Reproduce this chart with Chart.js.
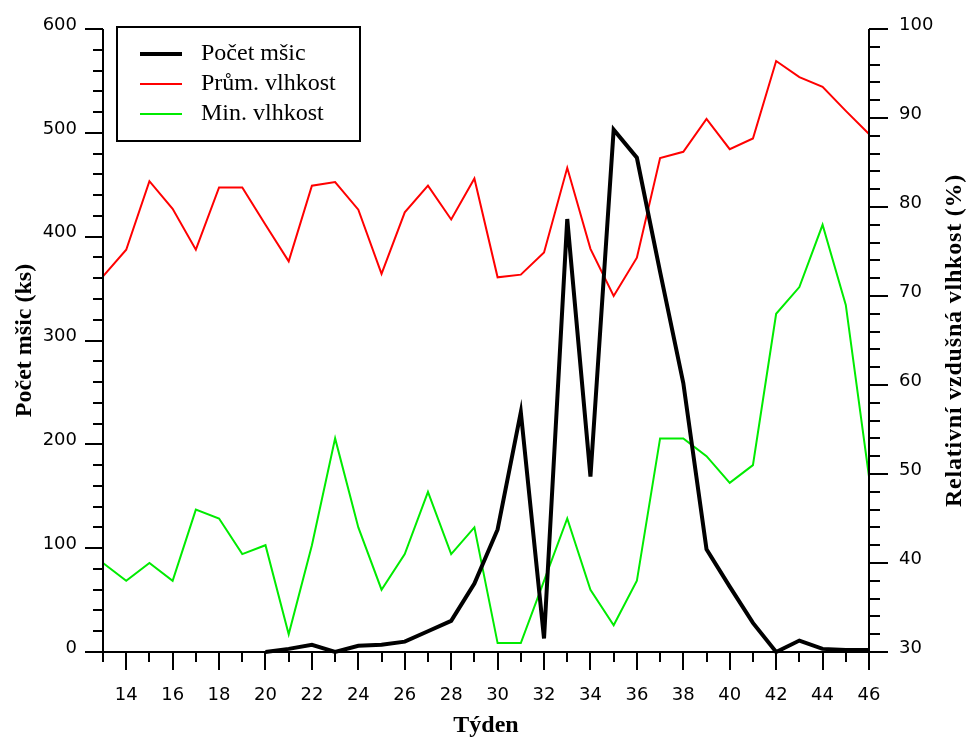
<!DOCTYPE html>
<html>
<head>
<meta charset="utf-8">
<script src="https://cdn.jsdelivr.net/npm/chart.js@4.4.1/dist/chart.umd.min.js"></script>
<style>
  body { margin: 0; background: #fff; }
  #wrap { width: 967px; height: 745px; }
</style>
</head>
<body>
<div id="wrap"><canvas id="myChart" width="967" height="745"></canvas></div>
<script>
// týdny 13..46
const weeks = [13, 14, 15, 16, 17, 18, 19, 20, 21, 22, 23, 24, 25, 26, 27, 28, 29,
  30, 31, 32, 33, 34, 35, 36, 37, 38, 39, 40, 41, 42, 43, 44, 45, 46];

// počet mšic (ks) - levá osa
const aphids = [null, null, null, null, null, null, null,
  0, 3, 7, 0, 6, 7, 10, 20, 30, 66, 118, 231, 13, 417, 169, 503, 476, 366, 259,
  99, 63, 28, 0, 11, 3, 2, 2];

// průměrná a minimální vlhkost (%) - pravá osa
const avgHumidity = [72.2, 75.2, 82.9, 79.8, 75.2, 82.2, 82.2, 78.0, 73.9, 82.4,
  82.8, 79.7, 72.5, 79.4, 82.4, 78.6, 83.2, 72.1, 72.4, 74.9,
  84.4, 75.3, 70.0, 74.3, 85.5, 86.2, 89.9, 86.5, 87.7, 96.4,
  94.6, 93.5, 90.8, 88.2];
const minHumidity = [40, 38, 40, 38, 46, 45, 41, 42, 32, 42,
  54, 44, 37, 41, 48, 41, 44, 31, 31, 38,
  45, 37, 33, 38, 54, 54, 52, 49, 51, 68,
  71, 78, 69, 49.7];

const xTickLabels = [14, 16, 18, 20, 22, 24, 26, 28, 30, 32, 34, 36, 38, 40, 42, 44, 46];
const leftTickLabels = [0, 100, 200, 300, 400, 500, 600];
const rightTickLabels = [30, 40, 50, 60, 70, 80, 90, 100];

const toPoints = (vals) => weeks.map((w, i) => ({ x: w, y: vals[i] }));

// osy a čárky kreslíme sami (delší hlavní, kratší vedlejší)
const axesPlugin = {
  id: 'axesPlugin',
  afterDatasetsDraw(chart) {
    const { ctx, chartArea: a, scales } = chart;
    const x = scales.x, y = scales.y, y1 = scales.y1;
    ctx.save();
    ctx.strokeStyle = '#000';
    ctx.lineWidth = 2;
    ctx.beginPath();
    ctx.moveTo(a.left - 18, a.bottom); ctx.lineTo(a.right + 19, a.bottom);
    ctx.moveTo(a.left, a.top); ctx.lineTo(a.left, a.bottom);
    ctx.moveTo(a.right, a.top); ctx.lineTo(a.right, a.bottom);
    x.ticks.forEach(t => {
      const px = Math.round(x.getPixelForValue(t.value));
      const len = t.value % 2 === 0 ? 18 : 10;
      ctx.moveTo(px, a.bottom); ctx.lineTo(px, a.bottom + len);
    });
    y.ticks.forEach(t => {
      const py = Math.round(y.getPixelForValue(t.value));
      const len = t.value % 100 === 0 ? 18 : 10;
      ctx.moveTo(a.left, py); ctx.lineTo(a.left - len, py);
    });
    y1.ticks.forEach(t => {
      const py = Math.round(y1.getPixelForValue(t.value));
      const len = t.value % 10 === 0 ? 19 : 11;
      ctx.moveTo(a.right, py); ctx.lineTo(a.right + len, py);
    });
    ctx.stroke();

    // název pravé osy (čte se zdola nahoru)
    ctx.translate(955, (a.top + a.bottom) / 2);
    ctx.rotate(-Math.PI / 2);
    ctx.fillStyle = '#000';
    ctx.font = 'bold 24px "Liberation Serif"';
    ctx.letterSpacing = '0.8px';
    ctx.textAlign = 'center';
    ctx.textBaseline = 'middle';
    ctx.fillText('Relativní vzdušná vlhkost (%)', 0, 0);
    ctx.restore();
  }
};

// legenda uvnitř grafu v rámečku
const legendBox = {
  id: 'legendBox',
  afterDraw(chart) {
    const ctx = chart.ctx;
    ctx.save();
    ctx.fillStyle = '#fff';
    ctx.fillRect(117, 27, 243, 114);
    ctx.strokeStyle = '#000';
    ctx.lineWidth = 2;
    ctx.strokeRect(117, 27, 243, 114);
    ctx.font = '24px "Liberation Serif"';
    ctx.textBaseline = 'middle';
    chart.data.datasets.forEach((ds, i) => {
      const ly = 54 + i * 30;
      ctx.strokeStyle = ds.borderColor;
      ctx.lineWidth = ds.borderWidth;
      ctx.beginPath();
      ctx.moveTo(140, ly); ctx.lineTo(182, ly);
      ctx.stroke();
      ctx.fillStyle = '#000';
      ctx.fillText(ds.label, 201, ly);
    });
    ctx.restore();
  }
};

// svislé osy: nechceme, aby odsazení popisků posouvalo horní okraj
const fitVertical = (w) => (s) => {
  s.width = w;
  s.paddingTop = 10;
  s.paddingBottom = 10;
};

Chart.defaults.font.family = '"DejaVu Sans"';
Chart.defaults.color = '#000';

new Chart(document.getElementById('myChart'), {
  type: 'line',
  data: {
    datasets: [
      { label: 'Počet mšic', data: toPoints(aphids), yAxisID: 'y',
        borderColor: '#000', borderWidth: 4, pointRadius: 0, clip: false },
      { label: 'Prům. vlhkost', data: toPoints(avgHumidity), yAxisID: 'y1',
        borderColor: '#ff0000', borderWidth: 2, pointRadius: 0, clip: false },
      { label: 'Min. vlhkost', data: toPoints(minHumidity), yAxisID: 'y1',
        borderColor: 'rgb(0, 235, 0)', borderWidth: 2, pointRadius: 0, clip: false }
    ]
  },
  options: {
    responsive: false,
    animation: false,
    layout: { padding: { top: 29, left: 0, right: 0, bottom: 0 } },
    plugins: { legend: { display: false }, tooltip: { enabled: false } },
    elements: { line: { tension: 0 } },
    scales: {
      x: {
        type: 'linear', min: 13, max: 46,
        grid: { drawOnChartArea: false, drawTicks: false, display: false },
        border: { display: false },
        ticks: {
          stepSize: 1, autoSkip: false, maxRotation: 0, padding: 33,
          font: { size: 18 },
          callback: (v) => xTickLabels.includes(v) ? String(v) : ''
        },
        title: { display: true, text: 'Týden', font: { family: '"Liberation Serif"', size: 24, weight: 'bold' },
          padding: { top: 0, bottom: 5 } },
        afterFit: (s) => { s.height = 93; }
      },
      y: {
        position: 'left', min: 0, max: 600,
        grid: { drawOnChartArea: false, drawTicks: false, display: false },
        border: { display: false },
        ticks: {
          stepSize: 20, autoSkip: false, padding: 26, labelOffset: -4,
          font: { size: 18 },
          callback: (v) => leftTickLabels.includes(v) ? String(v) : ''
        },
        title: { display: true, text: 'Počet mšic (ks)', font: { family: '"Liberation Serif"', size: 24, weight: 'bold' },
          padding: { top: 10, bottom: 0 } },
        afterFit: fitVertical(103)
      },
      y1: {
        position: 'right', min: 30, max: 100,
        grid: { drawOnChartArea: false, drawTicks: false, display: false },
        border: { display: false },
        ticks: {
          stepSize: 2, autoSkip: false, padding: 30, labelOffset: -4,
          font: { size: 18 },
          callback: (v) => rightTickLabels.includes(v) ? String(v) : ''
        },
        afterFit: fitVertical(98)
      }
    }
  },
  plugins: [axesPlugin, legendBox]
});
</script>
</body>
</html>
